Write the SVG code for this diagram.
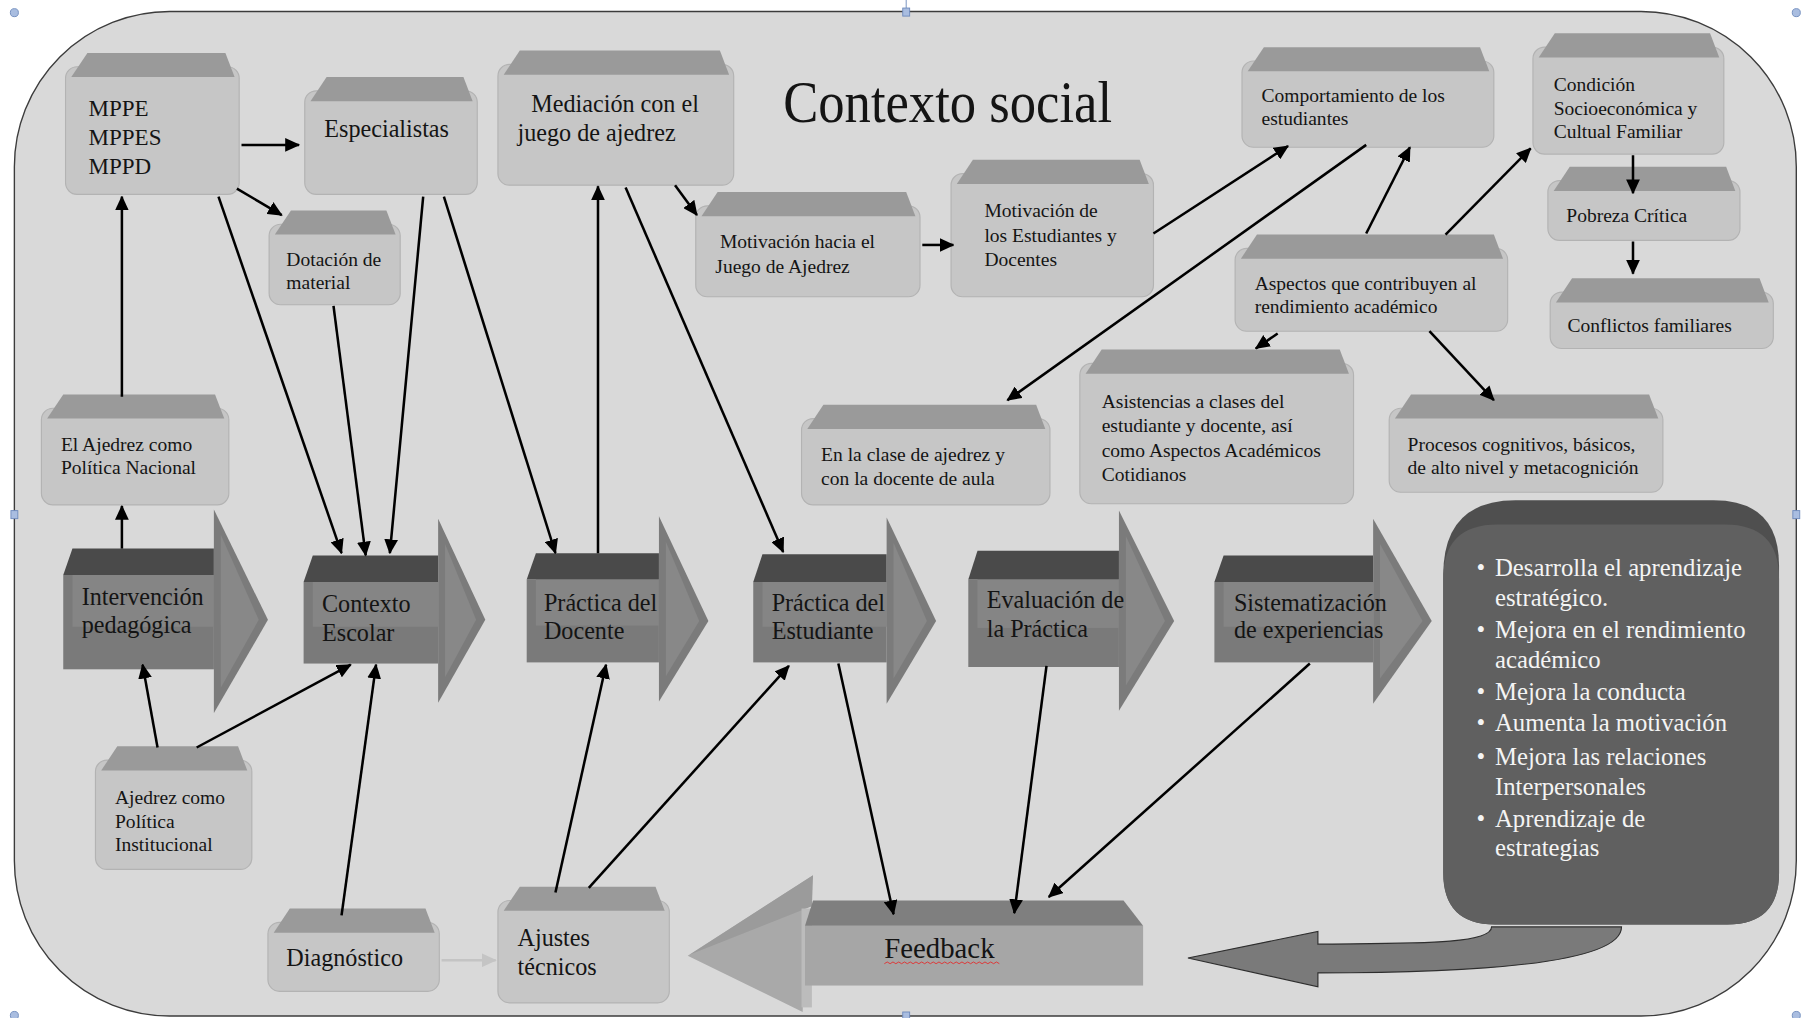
<svg xmlns="http://www.w3.org/2000/svg" width="1803" height="1018" viewBox="0 0 1803 1018">
<style>
.bb{fill:#c6c6c6;stroke:#b3b3b3;stroke-width:1}
.bl{fill:#9a9a9a}
.t{font-family:"Liberation Serif","Times New Roman",serif;fill:#141414}
.s17{font-size:17px}
.s20{font-size:20px}
.s21{font-size:21px}
.w{fill:#f4f4f4;font-size:21.5px}
.band{fill:#4a4a4a}
.ab{fill:#7a7a7a}
.ai{fill:#858585}
.ah{fill:#7b7b7b}
.af{fill:#888888}
.conn{stroke:#000;stroke-width:2.2;fill:none;marker-end:url(#arr)}
.conng{stroke:#c4c4c4;stroke-width:2.2;fill:none;marker-end:url(#arrg)}
.hdl{fill:#a9bde0;stroke:#6f8bbd;stroke-width:0.8}
</style>
<defs>
<marker id="arr" markerUnits="userSpaceOnUse" markerWidth="13" markerHeight="12" refX="12" refY="6" orient="auto"><path d="M0,0 L13,6 L0,12 Z" fill="#000"/></marker>
<marker id="arrg" markerUnits="userSpaceOnUse" markerWidth="13" markerHeight="12" refX="12" refY="6" orient="auto"><path d="M0,0 L13,6 L0,12 Z" fill="#c4c4c4"/></marker>
</defs>
<rect width="1803" height="1018" fill="#ffffff"/>
<g transform="scale(1.15)">
<g id="frame">
<line x1="788" y1="0" x2="788" y2="10" stroke="#6f8bbd" stroke-width="0.8"/>
<rect x="12.5" y="10" width="1549.5" height="873.5" rx="135" ry="135" fill="#d9d9d9" stroke="#3c3c3c" stroke-width="1.2"/>
<circle class="hdl" cx="12.5" cy="11" r="3.5"/>
<circle class="hdl" cx="1562" cy="11" r="3.5"/>
<circle class="hdl" cx="12.5" cy="883" r="3.5"/>
<circle class="hdl" cx="1562" cy="883" r="3.5"/>
<rect class="hdl" x="785" y="7" width="6" height="7"/>
<rect class="hdl" x="9.5" y="444" width="6" height="7"/>
<rect class="hdl" x="1559" y="444" width="6" height="7"/>
<rect class="hdl" x="785" y="880" width="6" height="6"/>
</g>
<text id="title" class="t" x="681" y="106" font-size="51" textLength="286" lengthAdjust="spacingAndGlyphs">Contexto social</text>

<g id="n-mppe"><rect class="bb" x="57" y="58" width="151" height="111" rx="10"/><polygon class="bl" points="76,46 196,46 204,67 62,67"/>
<text class="t s20" x="77" y="101">MPPE</text><text class="t s20" x="77" y="126">MPPES</text><text class="t s20" x="77" y="151">MPPD</text></g>
<g id="n-especialistas"><rect class="bb" x="265" y="79" width="150" height="90" rx="10"/><polygon class="bl" points="284,67 403,67 411,88 270,88"/>
<text class="t s21" x="282" y="119">Especialistas</text></g>
<g id="n-mediacion"><rect class="bb" x="433" y="56" width="205" height="105" rx="10"/><polygon class="bl" points="452,44 626,44 634,65 438,65"/>
<text class="t s21" x="462" y="97">Mediación con el</text><text class="t s21" x="450" y="123">juego de ajedrez</text></g>
<g id="n-dotacion"><rect class="bb" x="234" y="195" width="114" height="70" rx="10"/><polygon class="bl" points="253,183 336,183 344,204 239,204"/>
<text class="t s17" x="249" y="231">Dotación de</text><text class="t s17" x="249" y="251">material</text></g>
<g id="n-motivhacia"><rect class="bb" x="605" y="179" width="195" height="79" rx="10"/><polygon class="bl" points="624,167 788,167 796,188 610,188"/>
<text class="t s17" x="626" y="216">Motivación hacia el</text><text class="t s17" x="622" y="237">Juego de Ajedrez</text></g>
<g id="n-motivde"><rect class="bb" x="827" y="151" width="176" height="107" rx="10"/><polygon class="bl" points="846,139 991,139 999,160 832,160"/>
<text class="t s17" x="856" y="189">Motivación de</text><text class="t s17" x="856" y="210">los Estudiantes y</text><text class="t s17" x="856" y="231">Docentes</text></g>
<g id="n-comportamiento"><rect class="bb" x="1080" y="53" width="219" height="75" rx="10"/><polygon class="bl" points="1099,41 1287,41 1295,62 1085,62"/>
<text class="t s17" x="1097" y="89">Comportamiento de los</text><text class="t s17" x="1097" y="109">estudiantes</text></g>
<g id="n-condicion"><rect class="bb" x="1333" y="41" width="166" height="93" rx="10"/><polygon class="bl" points="1352,29 1487,29 1495,50 1338,50"/>
<text class="t s17" x="1351" y="79">Condición</text><text class="t s17" x="1351" y="100">Socioeconómica y</text><text class="t s17" x="1351" y="120">Cultual Familiar</text></g>
<g id="n-pobreza"><rect class="bb" x="1346" y="157" width="167" height="52" rx="10"/><polygon class="bl" points="1365,145 1501,145 1509,166 1351,166"/>
<text class="t s17" x="1362" y="193">Pobreza Crítica</text></g>
<g id="n-conflictos"><rect class="bb" x="1348" y="254" width="194" height="49" rx="10"/><polygon class="bl" points="1367,242 1530,242 1538,263 1353,263"/>
<text class="t s17" x="1363" y="289">Conflictos familiares</text></g>
<g id="n-aspectos"><rect class="bb" x="1074" y="216" width="237" height="72" rx="10"/><polygon class="bl" points="1093,204 1299,204 1307,225 1079,225"/>
<text class="t s17" x="1091" y="252">Aspectos que contribuyen al</text><text class="t s17" x="1091" y="272">rendimiento académico</text></g>
<g id="n-enlaclase"><rect class="bb" x="697" y="364" width="216" height="75" rx="10"/><polygon class="bl" points="716,352 901,352 909,373 702,373"/>
<text class="t s17" x="714" y="401">En la clase de ajedrez y</text><text class="t s17" x="714" y="422">con la docente de aula</text></g>
<g id="n-asistencias"><rect class="bb" x="939" y="316" width="238" height="122" rx="10"/><polygon class="bl" points="958,304 1165,304 1173,325 944,325"/>
<text class="t s17" x="958" y="355">Asistencias a clases del</text><text class="t s17" x="958" y="376">estudiante y docente, así</text><text class="t s17" x="958" y="397">como Aspectos  Académicos</text><text class="t s17" x="958" y="418">Cotidianos</text></g>
<g id="n-procesos"><rect class="bb" x="1208" y="355" width="238" height="73" rx="10"/><polygon class="bl" points="1227,343 1434,343 1442,364 1213,364"/>
<text class="t s17" x="1224" y="392">Procesos cognitivos, básicos,</text><text class="t s17" x="1224" y="412">de alto nivel y metacognición</text></g>
<g id="n-nacional"><rect class="bb" x="36" y="355" width="163" height="84" rx="10"/><polygon class="bl" points="55,343 187,343 195,364 41,364"/>
<text class="t s17" x="53" y="392">El Ajedrez como</text><text class="t s17" x="53" y="412">Política Nacional</text></g>
<g id="n-institucional"><rect class="bb" x="83" y="661" width="136" height="95" rx="10"/><polygon class="bl" points="102,649 207,649 215,670 88,670"/>
<text class="t s17" x="100" y="699">Ajedrez como</text><text class="t s17" x="100" y="720">Política</text><text class="t s17" x="100" y="740">Institucional</text></g>
<g id="n-diagnostico"><rect class="bb" x="233" y="802" width="149" height="60" rx="10"/><polygon class="bl" points="252,790 370,790 378,811 238,811"/>
<text class="t s21" x="249" y="840">Diagnóstico</text></g>
<g id="n-ajustes"><rect class="bb" x="433" y="783" width="149" height="89" rx="10"/><polygon class="bl" points="452,771 570,771 578,792 438,792"/>
<text class="t s21" x="450" y="823">Ajustes</text><text class="t s21" x="450" y="848">técnicos</text></g>

<g id="n-intervencion">
<rect class="ab" x="55" y="500" width="131" height="82"/><rect class="ai" x="63" y="500" width="123" height="45"/>
<polygon class="band" points="63,477 186,477 186,500 55,500"/>
<polygon class="ah" points="186,443 233,539 186,620"/><polygon class="af" points="192,465 225,539 192,598"/>
<text class="t s21" x="71" y="526">Intervención</text><text class="t s21" x="71" y="550">pedagógica</text></g>
<g id="n-contexto">
<rect class="ab" x="264" y="506" width="117" height="71"/><rect class="ai" x="272" y="506" width="109" height="39"/>
<polygon class="band" points="272,483 381,483 381,506 264,506"/>
<polygon class="ah" points="381,451 422,539 381,611"/><polygon class="af" points="387,473 414,539 387,589"/>
<text class="t s21" x="280" y="532">Contexto</text><text class="t s21" x="280" y="557">Escolar</text></g>
<g id="n-pdocente">
<rect class="ab" x="458" y="504" width="115" height="72"/><rect class="ai" x="466" y="504" width="107" height="40"/>
<polygon class="band" points="466,481 573,481 573,504 458,504"/>
<polygon class="ah" points="573,449 616,540 573,610"/><polygon class="af" points="579,471 608,540 579,588"/>
<text class="t s21" x="473" y="531">Práctica del</text><text class="t s21" x="473" y="556">Docente</text></g>
<g id="n-pestudiante">
<rect class="ab" x="655" y="506" width="116" height="70"/><rect class="ai" x="663" y="506" width="108" height="39"/>
<polygon class="band" points="663,482 771,482 771,506 655,506"/>
<polygon class="ah" points="771,450 814,540 771,612"/><polygon class="af" points="777,472 806,540 777,590"/>
<text class="t s21" x="671" y="531">Práctica del</text><text class="t s21" x="671" y="556">Estudiante</text></g>
<g id="n-evaluacion">
<rect class="ab" x="842" y="504" width="131" height="76"/><rect class="ai" x="850" y="504" width="123" height="42"/>
<polygon class="band" points="850,479 973,479 973,504 842,504"/>
<polygon class="ah" points="973,444 1021,540 973,618"/><polygon class="af" points="979,466 1013,540 979,596"/>
<text class="t s21" x="858" y="529">Evaluación de</text><text class="t s21" x="858" y="554">la Práctica</text></g>
<g id="n-sistematizacion">
<rect class="ab" x="1056" y="506" width="138" height="70"/><rect class="ai" x="1064" y="506" width="130" height="39"/>
<polygon class="band" points="1064,483 1194,483 1194,506 1056,506"/>
<polygon class="ah" points="1194,451 1245,540 1194,612"/><polygon class="af" points="1200,473 1237,540 1200,590"/>
<text class="t s21" x="1073" y="531">Sistematización</text><text class="t s21" x="1073" y="555">de experiencias</text></g>

<g id="n-feedback">
<polygon fill="#a9a9a9" points="707,761 598,831 698,880 700,783"/>
<polygon fill="#9b9b9b" points="707,761 600,830 706,788"/>
<rect x="697" y="790" width="9" height="86" fill="#bcbcbc"/>
<rect x="700" y="805" width="294" height="52" fill="#a6a6a6"/>
<polygon fill="#7f7f7f" points="707,783 977,783 994,805 700,805"/>
<text class="t" x="769" y="833" font-size="25">Feedback</text>
<path d="M769,838 l2.5,-1.5 l2.5,1.5 l2.5,-1.5 l2.5,1.5 l2.5,-1.5 l2.5,1.5 l2.5,-1.5 l2.5,1.5 l2.5,-1.5 l2.5,1.5 l2.5,-1.5 l2.5,1.5 l2.5,-1.5 l2.5,1.5 l2.5,-1.5 l2.5,1.5 l2.5,-1.5 l2.5,1.5 l2.5,-1.5 l2.5,1.5 l2.5,-1.5 l2.5,1.5 l2.5,-1.5 l2.5,1.5 l2.5,-1.5 l2.5,1.5 l2.5,-1.5 l2.5,1.5 l2.5,-1.5 l2.5,1.5 l2.5,-1.5 l2.5,1.5 l2.5,-1.5 l2.5,1.5 l2.5,-1.5 l2.5,1.5 l2.5,-1.5 l2.5,1.5 l2.5,-1.5 l2.5,1.5" fill="none" stroke="#e03030" stroke-width="0.8"/>
</g>

<g id="curved-arrow">
<path d="M1033,833 L1146,810 L1146,821 C1220,820 1297,822 1297,806 L1410,806 C1410,836 1300,846 1146,846 L1146,858 Z" fill="#7a7a7a" stroke="#2e2e2e" stroke-width="1"/>
</g>

<g id="n-resultados">
<path d="M1318,435 H1490 Q1547,435 1547,492 V759 Q1547,804 1502,804 H1300 Q1255,804 1255,759 V500 Q1255,435 1318,435 Z" fill="#4f4f4f"/>
<path d="M1302,456 H1500 Q1547,456 1547,503 V759 Q1547,804 1502,804 H1300 Q1255,804 1255,759 V503 Q1255,456 1302,456 Z" fill="#606060"/>
<text class="t w" x="1284" y="501">•</text><text class="t w" x="1300" y="501">Desarrolla el aprendizaje</text>
<text class="t w" x="1300" y="527">estratégico.</text>
<text class="t w" x="1284" y="555">•</text><text class="t w" x="1300" y="555">Mejora en el rendimiento</text>
<text class="t w" x="1300" y="581">académico</text>
<text class="t w" x="1284" y="609">•</text><text class="t w" x="1300" y="609">Mejora la conducta</text>
<text class="t w" x="1284" y="636">•</text><text class="t w" x="1300" y="636">Aumenta la motivación</text>
<text class="t w" x="1284" y="665">•</text><text class="t w" x="1300" y="665">Mejora las relaciones</text>
<text class="t w" x="1300" y="691">Interpersonales</text>
<text class="t w" x="1284" y="719">•</text><text class="t w" x="1300" y="719">Aprendizaje de</text>
<text class="t w" x="1300" y="744">estrategias</text>
</g>

<g id="connectors">
<line class="conn" x1="106" y1="345" x2="106" y2="171"/>
<line class="conn" x1="106" y1="477" x2="106" y2="440"/>
<line class="conn" x1="210" y1="126" x2="260" y2="126"/>
<line class="conn" x1="206" y1="164" x2="245" y2="187"/>
<line class="conn" x1="190" y1="171" x2="297" y2="481"/>
<line class="conn" x1="290" y1="266" x2="318" y2="483"/>
<line class="conn" x1="368" y1="171" x2="339" y2="481"/>
<line class="conn" x1="386" y1="171" x2="483" y2="481"/>
<line class="conn" x1="520" y1="481" x2="520" y2="162"/>
<line class="conn" x1="587" y1="161" x2="606" y2="187"/>
<line class="conn" x1="544" y1="163" x2="681" y2="480"/>
<line class="conn" x1="802" y1="213" x2="829" y2="213"/>
<line class="conn" x1="1003" y1="203" x2="1120" y2="127"/>
<line class="conn" x1="1188" y1="126" x2="876" y2="348"/>
<line class="conn" x1="1188" y1="203" x2="1226" y2="128"/>
<line class="conn" x1="1257" y1="204" x2="1331" y2="129"/>
<line class="conn" x1="1420" y1="135" x2="1420" y2="168"/>
<line class="conn" x1="1420" y1="210" x2="1420" y2="238"/>
<line class="conn" x1="1111" y1="290" x2="1092" y2="303"/>
<line class="conn" x1="1243" y1="288" x2="1299" y2="348"/>
<line class="conn" x1="137" y1="650" x2="124" y2="578"/>
<line class="conn" x1="171" y1="650" x2="305" y2="578"/>
<line class="conn" x1="297" y1="796" x2="327" y2="578"/>
<line class="conng" x1="384" y1="835" x2="431" y2="835"/>
<line class="conn" x1="483" y1="776" x2="527" y2="578"/>
<line class="conn" x1="512" y1="772" x2="686" y2="579"/>
<line class="conn" x1="729" y1="577" x2="777" y2="795"/>
<line class="conn" x1="910" y1="579" x2="882" y2="794"/>
<line class="conn" x1="1139" y1="577" x2="912" y2="780"/>
</g>
</g>
</svg>
